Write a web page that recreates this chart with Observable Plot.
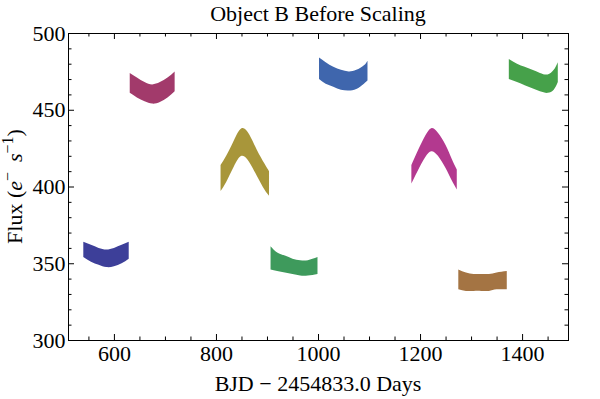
<!DOCTYPE html>
<html><head><meta charset="utf-8">
<script src="https://cdn.jsdelivr.net/npm/d3@7"></script>
<script src="https://cdn.jsdelivr.net/npm/@observablehq/plot@0.6"></script>
<style>body{margin:0;background:#fff} svg{display:block}</style>
</head><body><div id="chart"></div>
<script>
// ---- data ----
const q6Days  = [540, 555, 570, 585, 600, 615, 629];
const q6Lo    = [354, 351, 349, 347.5, 348, 350, 353];
const q6Hi    = [364, 362, 360, 359, 360, 362, 364];

const q7Days  = [631, 645, 660, 675, 690, 705, 719];
const q7Lo    = [461, 458, 455.5, 454, 455, 458, 462];
const q7Hi    = [474, 471, 468, 466.5, 468, 471, 475];

const q9Days  = [809, 820, 835, 850, 865, 880, 895, 904];
const q9Lo    = [397, 403, 413, 420, 416, 407, 398, 394];
const q9Hi    = [414, 420, 430, 438, 434, 424, 415, 410];

const q10Days = [907, 920, 935, 950, 965, 980, 999];
const q10Lo   = [346, 345, 344, 343, 342, 342, 343];
const q10Hi   = [361, 357, 355, 353, 352, 352, 354];

const q11Days = [1002, 1015, 1030, 1045, 1060, 1075, 1090, 1097];
const q11Lo   = [470, 467, 465, 463, 462.5, 463.5, 467, 469];
const q11Hi   = [484, 481, 478, 476, 475, 476, 479, 482];

const q13Days = [1183, 1195, 1210, 1222, 1235, 1250, 1262, 1272];
const q13Lo   = [402, 410, 419, 423, 420, 412, 404, 398];
const q13Hi   = [414, 423, 433, 438, 435, 427, 418, 411];

const q14Days = [1275, 1290, 1305, 1320, 1335, 1350, 1370];
const q14Lo   = [333, 332, 332, 332, 332, 333, 333];
const q14Hi   = [346, 344, 343, 343, 343, 344, 345];

const q15Days = [1374, 1390, 1405, 1420, 1435, 1450, 1462, 1470];
const q15Lo   = [470, 468, 466, 464, 462, 461, 463, 468];
const q15Hi   = [483, 480, 478, 476, 474, 473, 476, 481];

const segNames  = ["Q6", "Q7", "Q9", "Q10", "Q11", "Q13", "Q14", "Q15"];
const segColors = ["#3d3f99", "#a23a6b", "#a8963a", "#3e9a5c", "#3f66ad", "#b3398f", "#a47443", "#46a14a"];

const xMajor = [600, 800, 1000, 1200, 1400];
const xMinor = [550, 650, 700, 750, 850, 900, 950, 1050, 1100, 1150, 1250, 1300, 1350, 1450];
const yMajor = [300, 350, 400, 450, 500];
const yMinor = [310, 320, 330, 340, 360, 370, 380, 390, 410, 420, 430, 440, 460, 470, 480, 490];

// ---- build table ----
const segs = [
  [q6Days, q6Lo, q6Hi], [q7Days, q7Lo, q7Hi], [q9Days, q9Lo, q9Hi], [q10Days, q10Lo, q10Hi],
  [q11Days, q11Lo, q11Hi], [q13Days, q13Lo, q13Hi], [q14Days, q14Lo, q14Hi], [q15Days, q15Lo, q15Hi]
];
const rows = [];
segs.forEach(([t, lo, hi], i) => t.forEach((d, j) => rows.push({q: segNames[i], t: d, lo: lo[j], hi: hi[j]})));

const W = 600, H = 399, mL = 68, mR = 32, mT = 33, mB = 59;
const fw = W - mL - mR, fh = H - mT - mB;
const font = "Liberation Serif";
const fs = 22;

const chart = Plot.plot({
  width: W, height: H,
  marginLeft: mL, marginRight: mR, marginTop: mT, marginBottom: mB,
  style: {fontFamily: font, fontSize: fs + "px", color: "black", background: "white"},
  x: {domain: [510, 1490]},
  y: {domain: [300, 500]},
  color: {domain: segNames, range: segColors},
  marks: [
    Plot.areaY(rows, {x: "t", y1: "lo", y2: "hi", z: "q", fill: "q", curve: "natural"}),
    Plot.frame({stroke: "black", strokeWidth: 1}),
    Plot.tickX(xMajor, {x: d => d, insetTop: fh - 6, stroke: "black"}),
    Plot.tickX(xMinor, {x: d => d, insetTop: fh - 3.5, stroke: "black"}),
    Plot.tickX(xMajor, {x: d => d, insetBottom: fh - 6, stroke: "black"}),
    Plot.tickX(xMinor, {x: d => d, insetBottom: fh - 3.5, stroke: "black"}),
    Plot.tickY(yMajor, {y: d => d, insetRight: fw - 6, stroke: "black"}),
    Plot.tickY(yMinor, {y: d => d, insetRight: fw - 3.5, stroke: "black"}),
    Plot.tickY(yMajor, {y: d => d, insetLeft: fw - 6, stroke: "black"}),
    Plot.tickY(yMinor, {y: d => d, insetLeft: fw - 3.5, stroke: "black"}),
    Plot.axisX(xMajor, {tickSize: 0, tickPadding: 5, label: null, fontSize: fs, tickFormat: d => String(d)}),
    Plot.axisY(yMajor, {tickSize: 0, tickPadding: 3, label: null, fontSize: fs, tickFormat: d => String(d)})
  ]
});

const svg = d3.select(chart);
svg.append("text").attr("x", mL + fw / 2).attr("y", 21)
  .attr("text-anchor", "middle").attr("font-family", font).attr("font-size", fs).attr("fill", "black")
  .text("Object B Before Scaling");
svg.append("text").attr("x", mL + fw / 2).attr("y", 391)
  .attr("text-anchor", "middle").attr("font-family", font).attr("font-size", fs).attr("fill", "black")
  .text("BJD \u2212 2454833.0 Days");
const yl = svg.append("text")
  .attr("transform", `translate(22,${mT + fh / 2}) rotate(-90)`)
  .attr("text-anchor", "middle").attr("font-family", font).attr("font-size", fs).attr("fill", "black");
yl.append("tspan").text("Flux (");
yl.append("tspan").attr("font-style", "italic").text("e");
yl.append("tspan").attr("font-size", 16).attr("dy", -9).text("\u2212");
yl.append("tspan").attr("dy", 9).text("\u2009 ");
yl.append("tspan").attr("font-style", "italic").text("s");
yl.append("tspan").attr("font-size", 16).attr("dy", -9).text("\u22121");
yl.append("tspan").attr("dy", 9).text(")");

document.getElementById("chart").appendChild(chart);
</script>
</body></html>
